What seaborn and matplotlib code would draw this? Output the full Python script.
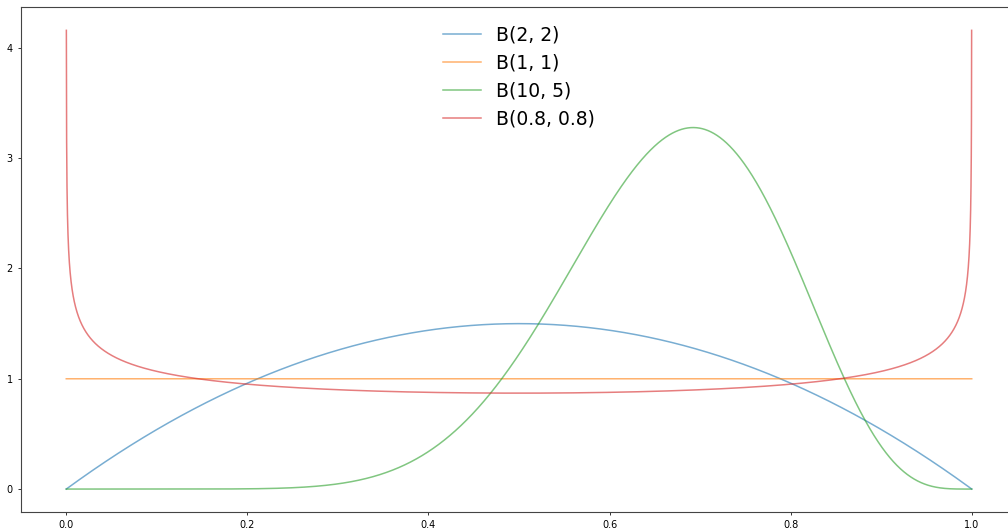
import math
import numpy as np
import pandas as pd
import matplotlib
matplotlib.use("Agg")
import matplotlib.pyplot as plt
import seaborn as sns

# Beta distribution parameters shown in the legend
alphas = [2, 1, 10, 0.8]
betas = [2, 1, 5, 0.8]
labels = ["B(2, 2)", "B(1, 1)", "B(10, 5)", "B(0.8, 0.8)"]
colors = ["#1f77b4", "#ff7f0e", "#2ca02c", "#d62728"]
x_ticks = [0.0, 0.2, 0.4, 0.6, 0.8, 1.0]
y_ticks = [0, 1, 2, 3, 4]

x = np.linspace(0, 1, 10001)


def beta_pdf(xv, a, b):
    norm = math.gamma(a) * math.gamma(b) / math.gamma(a + b)
    with np.errstate(divide="ignore", invalid="ignore"):
        y = xv ** (a - 1) * (1 - xv) ** (b - 1) / norm
    y = np.where(np.isfinite(y), y, np.nan)
    return y


fig = plt.figure(figsize=(10.08, 5.29), dpi=100)
ax = fig.add_axes([21 / 1008, 17 / 529, 996 / 1008, 504.6 / 529])

for a, b, lab, col in zip(alphas, betas, labels, colors):
    df = pd.DataFrame({"x": x, "y": beta_pdf(x, a, b)})
    sns.lineplot(data=df, x="x", y="y", ax=ax, color=col, alpha=0.6,
                 linewidth=1.1, label=lab, estimator=None, sort=False)

ax.set_xticks(x_ticks)
ax.set_yticks(y_ticks)
ax.set_xticklabels([f"{t:.1f}" for t in x_ticks])
ax.set_yticklabels([str(t) for t in y_ticks])
ax.set_xlabel("")
ax.set_ylabel("")
ax.tick_params(labelsize=7, length=2.5, width=0.7, color="#333333")
for s in ax.spines.values():
    s.set_linewidth(0.8)
    s.set_color("#444444")

ax.legend(loc="upper center", frameon=False, fontsize=13.5, handlelength=2.0,
          handletextpad=0.8, labelspacing=0.48, borderaxespad=0.55)

fig.savefig("out.png", dpi=100)
